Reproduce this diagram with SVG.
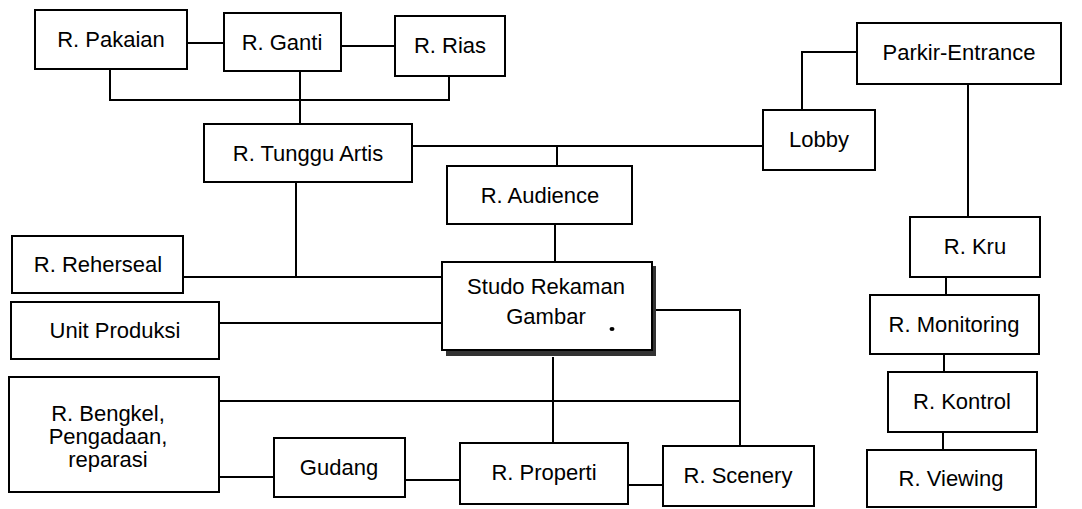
<svg xmlns="http://www.w3.org/2000/svg" width="1082" height="509" viewBox="0 0 1082 509">
<style>
.b{fill:#fff;stroke:#000;stroke-width:2}
.t{font-family:"Liberation Sans",Arial,sans-serif;font-size:22px;fill:#000;text-anchor:middle}
.c{fill:none;stroke:#000;stroke-width:2}
</style>
<rect width="1082" height="509" fill="#fff"/>
<g id="connectors">
<path class="c" d="M187,43 H224"/>
<path class="c" d="M341,46 H395"/>
<path class="c" d="M110,69 V100 H449 V76"/>
<path class="c" d="M300,71 V124"/>
<path class="c" d="M412,146 H763"/>
<path class="c" d="M557,146 V166"/>
<path class="c" d="M555,224 V262"/>
<path class="c" d="M802,110 V52 H857"/>
<path class="c" d="M968,84 V217"/>
<path class="c" d="M946,277 V295"/>
<path class="c" d="M944,354 V372"/>
<path class="c" d="M943,432 V450"/>
<path class="c" d="M296,182 V277"/>
<path class="c" d="M183,277 H442"/>
<path class="c" d="M219,323 H442"/>
<path class="c" d="M652,310 H740 V446"/>
<path class="c" d="M219,401 H740"/>
<path class="c" d="M219,477 H274"/>
<path class="c" d="M405,480 H460"/>
<path class="c" d="M553,357 V443"/>
<path class="c" d="M628,485 H663"/>
</g>
<g id="pakaian"><rect class="b" x="35" y="10" width="152" height="59"/><text class="t" x="111" y="47">R. Pakaian</text></g>
<g id="ganti"><rect class="b" x="224" y="13" width="117" height="58"/><text class="t" x="282" y="50">R. Ganti</text></g>
<g id="rias"><rect class="b" x="395" y="16" width="110" height="60"/><text class="t" x="450" y="53">R. Rias</text></g>
<g id="tunggu"><rect class="b" x="204" y="124" width="208" height="58"/><text class="t" x="308" y="161">R. Tunggu Artis</text></g>
<g id="audience"><rect class="b" x="447" y="166" width="185" height="58"/><text class="t" x="540" y="203">R. Audience</text></g>
<g id="lobby"><rect class="b" x="763" y="110" width="112" height="60"/><text class="t" x="819" y="147">Lobby</text></g>
<g id="parkir"><rect class="b" x="857" y="23" width="204" height="61"/><text class="t" x="959" y="60">Parkir-Entrance</text></g>
<g id="kru"><rect class="b" x="910" y="217" width="130" height="60"/><text class="t" x="975" y="254">R. Kru</text></g>
<g id="monitoring"><rect class="b" x="870" y="295" width="169" height="59"/><text class="t" x="954" y="332">R. Monitoring</text></g>
<g id="kontrol"><rect class="b" x="888" y="372" width="149" height="60"/><text class="t" x="962" y="409">R. Kontrol</text></g>
<g id="viewing"><rect class="b" x="867" y="450" width="169" height="57"/><text class="t" x="951" y="486">R. Viewing</text></g>
<g id="reherseal"><rect class="b" x="12" y="236" width="171" height="57"/><text class="t" x="98" y="272">R. Reherseal</text></g>
<g id="unit"><rect class="b" x="11" y="302" width="208" height="57"/><text class="t" x="115" y="338">Unit Produksi</text></g>
<g id="bengkel"><rect class="b" x="9" y="377" width="210" height="115"/><text class="t" x="108" y="421">R. Bengkel,</text><text class="t" x="108" y="444">Pengadaan,</text><text class="t" x="108" y="467">reparasi</text></g>
<g id="gudang"><rect class="b" x="274" y="438" width="131" height="59"/><text class="t" x="339" y="475">Gudang</text></g>
<g id="properti"><rect class="b" x="460" y="443" width="168" height="61"/><text class="t" x="544" y="480">R. Properti</text></g>
<g id="scenery"><rect class="b" x="663" y="446" width="151" height="60"/><text class="t" x="738" y="483">R. Scenery</text></g>
<g id="studio">
<rect x="446" y="266" width="210" height="90" fill="#333"/>
<rect class="b" x="442" y="262" width="210" height="88"/>
<text class="t" x="546" y="294">Studo Rekaman</text>
<text class="t" x="546" y="324">Gambar</text>
<ellipse cx="612" cy="329" rx="2.5" ry="2" fill="#000"/>
</g>
</svg>
